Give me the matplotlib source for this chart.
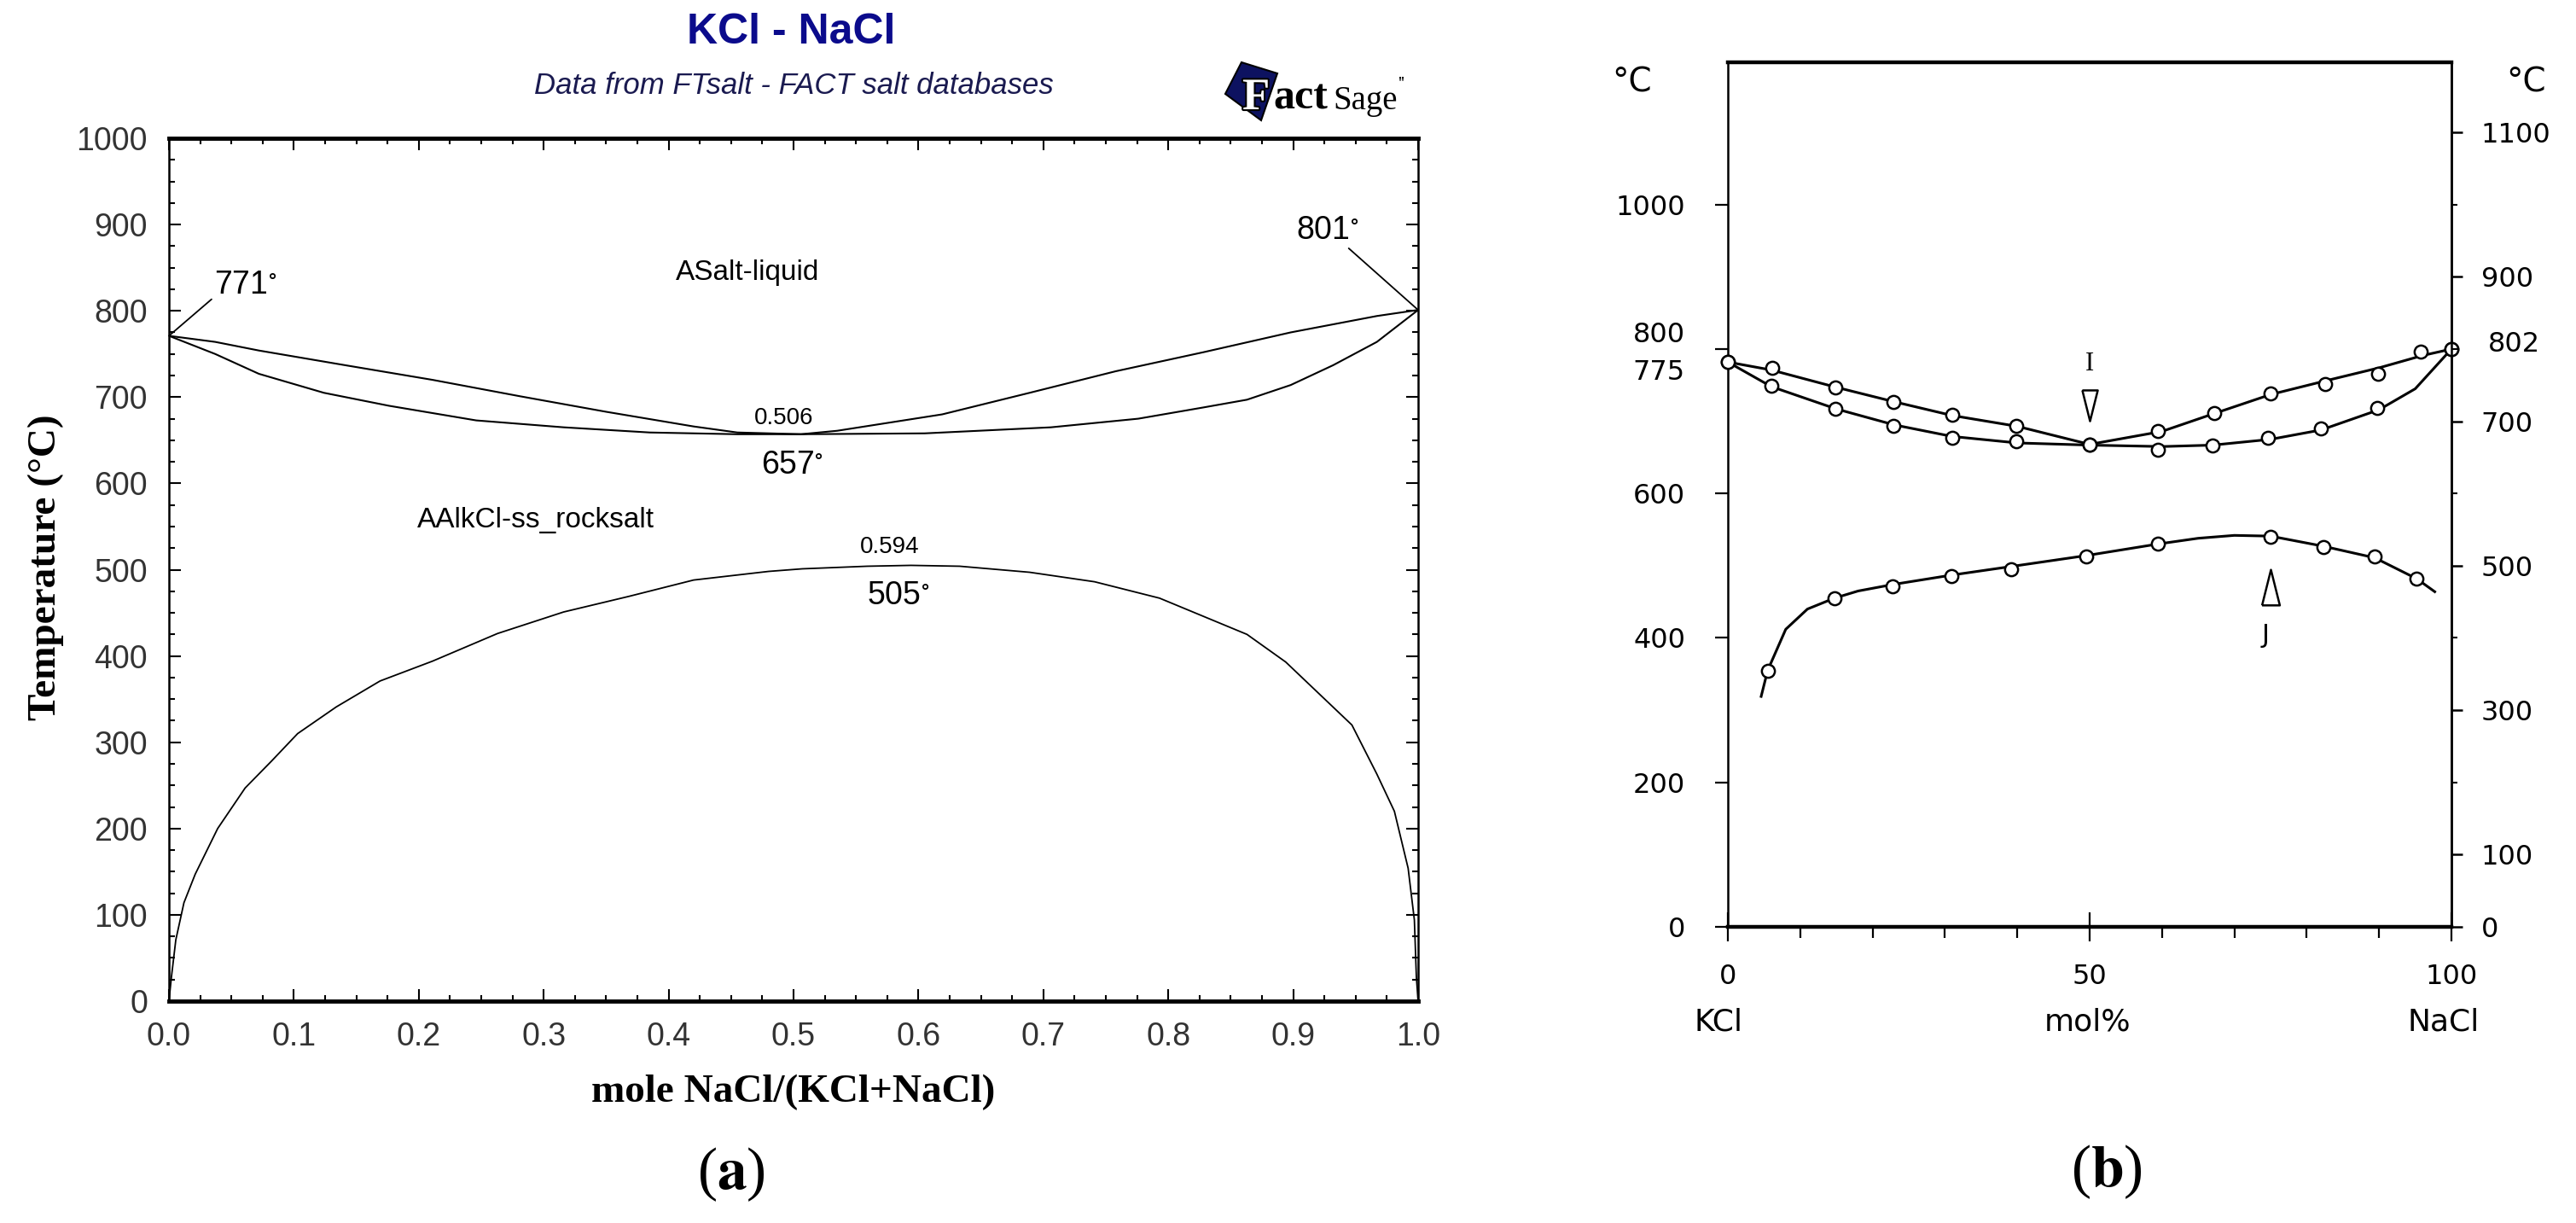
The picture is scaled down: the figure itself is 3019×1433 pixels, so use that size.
import matplotlib
matplotlib.use('Agg')
import matplotlib.pyplot as plt
import matplotlib.transforms as mtransforms
import matplotlib.patheffects as pe
from matplotlib.ticker import MultipleLocator
from matplotlib.patches import Polygon
import numpy as np

plt.rcParams['mathtext.fontset'] = 'stix'

SANS = ['Liberation Sans', 'DejaVu Sans']
SERIF = ['Liberation Serif', 'DejaVu Serif']

# ---- (a) FactSage calculated KCl-NaCl diagram ----
liq_x = [0.0, 0.037, 0.072, 0.141, 0.211, 0.281, 0.350, 0.420, 0.455, 0.506,
         0.535, 0.619, 0.689, 0.758, 0.828, 0.898, 0.967, 1.0]
liq_T = [771, 764, 754, 737, 720, 701, 683, 666, 659, 657,
         661, 680, 705, 730, 752, 775, 794, 801]

sol_x = [0.0, 0.037, 0.072, 0.124, 0.176, 0.246, 0.316, 0.385, 0.455, 0.506,
         0.605, 0.706, 0.776, 0.828, 0.863, 0.898, 0.932, 0.967, 1.0]
sol_T = [771, 750, 727, 705, 690, 673, 665, 659, 657, 657,
         658, 665, 675, 688, 697, 714, 737, 764, 801]

gap_x = [0.0, 0.002, 0.0055, 0.012, 0.021, 0.039, 0.061, 0.082, 0.103, 0.134,
         0.169, 0.211, 0.263, 0.316, 0.368, 0.420, 0.480, 0.507, 0.559, 0.594,
         0.633, 0.689, 0.741, 0.793, 0.863, 0.894, 0.947, 0.967, 0.981, 0.992,
         0.997, 0.9986, 1.0]
gap_T = [0, 28, 71, 114, 147, 200, 247, 278, 310, 341,
         371, 394, 426, 451, 469, 488, 498, 501, 504, 505,
         504, 497, 486, 467, 425, 393, 320, 263, 220, 154,
         94, 28, 0]

x_ticks_a = np.arange(0, 1.01, 0.1)
y_ticks_a = np.arange(0, 1001, 100)

# ---- (b) experimental data (mol% NaCl) ----
liqb_x = [0, 6, 15, 23, 31, 40, 50, 60, 67, 75, 83, 90, 96, 100]
liqb_T = [782, 771, 747, 727, 708, 693, 668, 686, 710, 737, 757, 774, 791, 800]
liqb_px = [0, 6.1, 14.9, 22.9, 31.0, 39.9, 50.0, 59.4, 67.2, 75.0, 82.6, 89.9, 95.7, 100]
liqb_pT = [782, 774, 747, 727, 709, 694, 668, 686, 711, 739, 751, 766, 796, 800]

solb_x = [0, 6, 15, 23, 31, 40, 50, 60, 67, 75, 82, 90, 95, 100]
solb_T = [782, 748, 717, 695, 679, 670, 667, 665, 667, 675, 688, 716, 745, 800]
solb_px = [0, 6.0, 14.9, 22.9, 31.0, 39.9, 50.0, 59.4, 67.0, 74.6, 81.9, 89.7, 100]
solb_pT = [782, 749, 717, 694, 677, 672, 668, 661, 666, 677, 690, 719, 800]

gapb_x = [4.6, 5.5, 8, 11, 14.7, 18, 22.8, 30.9, 39.2, 49.5, 59.4, 65, 70, 75,
          82.3, 89.4, 95.2, 97.7]
gapb_T = [319, 355, 412, 440, 455, 465, 474, 487, 499, 514, 530, 538, 542, 541,
          527, 511, 482, 464]
gapb_px = [5.5, 14.7, 22.8, 30.9, 39.2, 49.5, 59.4, 75.0, 82.3, 89.4, 95.2]
gapb_pT = [355, 455, 472, 486, 495, 513, 530, 540, 526, 513, 482]

left_ticks_b = [0, 200, 400, 600, 800, 1000]
left_labels_b = ['0', '200', '400', '600', '', '1000']
right_ticks_b = [0, 100, 300, 500, 700, 900, 1100]
right_minor_b = [200, 400, 600, 800, 1000]

W, H = 3019, 1433


def fxy(px, py):
    return px / W, 1 - py / H


fig = plt.figure(figsize=(W / 100, H / 100), dpi=100)

# ================= panel (a) =================
ax1 = fig.add_axes([198 / W, 1 - 1173 / H, 1464 / W, 1011 / H])
ax1.plot(liq_x, liq_T, color='black', lw=1.5)
ax1.plot(sol_x, sol_T, color='black', lw=1.5)
ax1.plot(gap_x, gap_T, color='black', lw=1.3)
ax1.set_xlim(0, 1)
ax1.set_ylim(0, 1000)
ax1.set_xticks(x_ticks_a)
ax1.set_xticklabels(['%.1f' % v for v in x_ticks_a])
ax1.set_yticks(y_ticks_a)
ax1.xaxis.set_minor_locator(MultipleLocator(0.025))
ax1.yaxis.set_minor_locator(MultipleLocator(25))
ax1.tick_params(which='both', direction='in', top=True, right=True, width=1.5)
ax1.tick_params(which='major', length=10, labelsize=27, colors='black')
ax1.tick_params(which='minor', length=5)
ax1.tick_params(axis='y', pad=18)
ax1.tick_params(axis='x', pad=17)
for lab in ax1.get_xticklabels() + ax1.get_yticklabels():
    lab.set_family(SANS)
    lab.set_color('#333333')
for s in ['top', 'bottom']:
    ax1.spines[s].set_linewidth(3.5)
for s in ['left', 'right']:
    ax1.spines[s].set_linewidth(1.8)

ax1.set_xlabel('mole NaCl/(KCl+NaCl)', family=SERIF, fontweight='bold', fontsize=34)
ax1.xaxis.set_label_coords(0.5, -0.085)
ax1.set_ylabel('Temperature (°C)', family=SERIF, fontweight='bold', fontsize=34)
ax1.yaxis.set_label_coords(-0.084, 0.503)

ax1.annotate('771$^{\\circ}$', xy=(liq_x[0], liq_T[0]), xytext=(0.036, 830),
             ha='left', va='center', fontsize=27, family=SANS,
             arrowprops=dict(arrowstyle='-', lw=1.3, shrinkA=0, shrinkB=0, relpos=(0, 0.1)))
ax1.annotate('801$^{\\circ}$', xy=(liq_x[-1], liq_T[-1]), xytext=(0.902, 893),
             ha='left', va='center', fontsize=27, family=SANS,
             arrowprops=dict(arrowstyle='-', lw=1.3, shrinkA=0, shrinkB=0, relpos=(0.75, 0.1)))
ax1.text(0.463, 844, 'ASalt-liquid', ha='center', va='center', fontsize=24, family=SANS)
ax1.text(0.294, 557, 'AAlkCl-ss_rocksalt', ha='center', va='center', fontsize=24, family=SANS)
ax1.text(0.492, 676, '0.506', ha='center', va='center', fontsize=20, family=SANS)
ax1.text(0.474, 621, '657$^{\\circ}$', ha='left', va='center', fontsize=27, family=SANS)
ax1.text(0.577, 526, '0.594', ha='center', va='center', fontsize=20, family=SANS)
ax1.text(0.559, 470, '505$^{\\circ}$', ha='left', va='center', fontsize=27, family=SANS)

fig.text(*fxy(927, 38), 'KCl - NaCl', ha='center', va='center', fontsize=36,
         fontweight='bold', color='#0b0b8c', family=SANS)
fig.text(*fxy(930, 100), 'Data from FTsalt - FACT salt databases', ha='center', va='center',
         fontsize=25, style='italic', color='#1a1a50', family=SANS)

# FactSage logo (approximation)
logo = Polygon([fxy(1455, 73), fxy(1436, 110), fxy(1478, 141), fxy(1497, 86)],
               closed=True, transform=fig.transFigure, facecolor='#0d1260',
               edgecolor='black', lw=1.5)
fig.patches.append(logo)
fig.text(*fxy(1456, 128), 'F', ha='left', va='baseline', fontsize=38, fontweight='bold',
         color='white', family=SERIF,
         path_effects=[pe.withStroke(linewidth=3, foreground='black')])
fig.text(*fxy(1492, 128), 'act', ha='left', va='baseline', fontsize=36, fontweight='bold',
         color='black', family=SERIF)
fig.text(*fxy(1562, 128), 'Sage', ha='left', va='baseline', fontsize=28,
         color='black', family=SERIF)
fig.text(*fxy(1638, 104), "''", ha='left', va='baseline', fontsize=16,
         color='black', family=SERIF)

fig.text(*fxy(857, 1376), '($\\mathbf{a}$)', ha='center', va='center', fontsize=50, family=SERIF)

# ================= panel (b) =================
ax2 = fig.add_axes([2025 / W, 1 - 1086 / H, 848 / W, 1013 / H])
ax2.plot(liqb_x, liqb_T, color='black', lw=2.2, zorder=2)
ax2.plot(solb_x, solb_T, color='black', lw=2.2, zorder=2)
ax2.plot(gapb_x, gapb_T, color='black', lw=2.2, zorder=2)
for px, pT in [(liqb_px, liqb_pT), (solb_px, solb_pT), (gapb_px, gapb_pT)]:
    ax2.plot(px, pT, linestyle='none', marker='o', ms=11, mfc='white',
             mec='black', mew=1.8, zorder=3, clip_on=False)
ax2.set_xlim(0, 100)
ax2.set_ylim(0, 1197)
ax2.set_xticks([0, 50, 100])
ax2.xaxis.set_minor_locator(MultipleLocator(10))
ax2.set_yticks(left_ticks_b, left_labels_b)
ax2.tick_params(axis='y', direction='out', length=11, width=1.6, pad=25, labelsize=23)
ax2.tick_params(axis='x', which='major', direction='inout', length=24, width=1.6,
                pad=19, labelsize=23)
ax2.tick_params(axis='x', which='minor', direction='out', length=9, width=1.6)
for s in ['top', 'bottom']:
    ax2.spines[s].set_linewidth(3.2)
for s in ['left', 'right']:
    ax2.spines[s].set_linewidth(1.8)

ax2r = ax2.twinx()
ax2r.set_ylim(ax2.get_ylim())
ax2r.set_yticks(right_ticks_b)
ax2r.set_yticks(right_minor_b, minor=True)
ax2r.tick_params(axis='y', which='major', direction='out', length=9, width=1.8,
                 pad=16, labelsize=23)
ax2r.tick_params(axis='y', which='minor', direction='out', length=5, width=1.5)
for s in ['top', 'bottom', 'left']:
    ax2r.spines[s].set_visible(False)
ax2r.spines['right'].set_linewidth(1.8)

left_tr = mtransforms.blended_transform_factory(ax2.transAxes, ax2.transData)
ax2.text(-0.059, 819, '800', transform=left_tr, ha='right', va='center', fontsize=23)
ax2.text(-0.059, 767, '775', transform=left_tr, ha='right', va='center', fontsize=23)
ax2.text(1.051, 806, '802', transform=left_tr, ha='left', va='center', fontsize=23)

# I and J markers
ax2.text(50, 779, 'I', ha='center', va='center', fontsize=22, family=SERIF)
ax2.plot([50], [722], linestyle='none', marker=[(-0.5, 1), (0.5, 1), (0, -1), (-0.5, 1)],
         ms=26, mfc='white', mec='black', mew=1.8, zorder=4)
ax2.text(74.3, 403, 'J', ha='center', va='center', fontsize=22)
ax2.plot([75], [470], linestyle='none', marker=[(-0.5, -1), (0.5, -1), (0, 1), (-0.5, -1)],
         ms=30, mfc='white', mec='black', mew=1.8, zorder=4)

fig.text(*fxy(1913, 97), '°C', ha='center', va='center', fontsize=28)
fig.text(*fxy(2961, 97), '°C', ha='center', va='center', fontsize=28)
fig.text(*fxy(2014, 1198), 'KCl', ha='center', va='center', fontsize=26)
fig.text(*fxy(2447, 1198), 'mol%', ha='center', va='center', fontsize=26)
fig.text(*fxy(2864, 1198), 'NaCl', ha='center', va='center', fontsize=26)

fig.text(*fxy(2469, 1373), '($\\mathbf{b}$)', ha='center', va='center', fontsize=50, family=SERIF)

fig.savefig('out.png', dpi=100, facecolor='white')
